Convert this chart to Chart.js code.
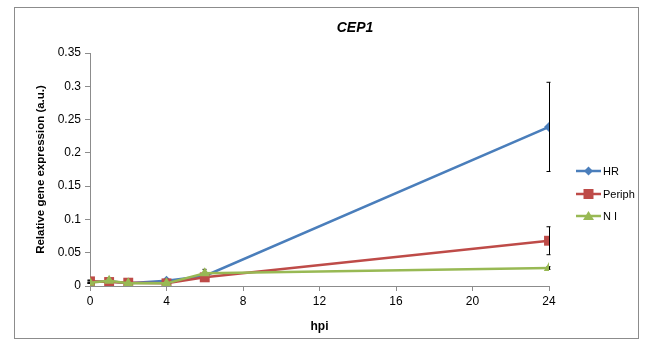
<!DOCTYPE html>
<html lang="en">
<head>
    <meta charset="UTF-8">
    <title>CEP1</title>
    <script src="https://cdn.jsdelivr.net/npm/chart.js"></script>
    <style>
        body { margin: 0; background: #fff; }
        .chart-box { width: 649px; height: 362px; }
    </style>
</head>
<body>
    <div class="chart-box">
        <canvas id="lineChart" width="649" height="362"></canvas>
    </div>

    <script>
        // hours post infection
        var hpi = [0, 1, 2, 4, 6, 24];
        var hrValues = [0.006, 0.007, 0.004, 0.008, 0.015, 0.239];
        var hrErrors = [0.002, 0.002, 0.001, 0.002, 0.003, 0.067];
        var periphValues = [0.007, 0.006, 0.005, 0.004, 0.013, 0.068];
        var periphErrors = [0.002, 0.002, 0.001, 0.001, 0.003, 0.021];
        var niValues = [0.005, 0.008, 0.004, 0.004, 0.019, 0.027];
        var niErrors = [0.001, 0.002, 0.001, 0.001, 0.006, 0.002];
        var xTicks = [0, 4, 8, 12, 16, 20, 24];
        var yTicks = [0, 0.05, 0.1, 0.15, 0.2, 0.25, 0.3, 0.35];

        var fontFamily = "'Liberation Sans', Arial, sans-serif";

        function toPoints(values) {
            return values.map(function (v, i) { return { x: hpi[i], y: v }; });
        }

        // error bars + frame + title + legend, all drawn on the canvas
        var extrasPlugin = {
            id: 'extras',
            beforeDatasetsDraw: function (chart) {
                var ctx = chart.ctx;
                var xs = chart.scales.x, ys = chart.scales.y;
                ctx.save();
                ctx.strokeStyle = '#000';
                ctx.lineWidth = 1;
                chart.data.datasets.forEach(function (ds) {
                    ds.errors.forEach(function (e, i) {
                        var px = Math.round(xs.getPixelForValue(hpi[i])) + 0.5;
                        var top = ys.getPixelForValue(ds.values[i] + e);
                        var bot = ys.getPixelForValue(ds.values[i] - e);
                        ctx.beginPath();
                        ctx.moveTo(px, top);
                        ctx.lineTo(px, bot);
                        ctx.moveTo(px - 3, top);
                        ctx.lineTo(px + 1, top);
                        ctx.moveTo(px - 3, bot);
                        ctx.lineTo(px + 1, bot);
                        ctx.stroke();
                    });
                });
                ctx.restore();
            },
            afterDraw: function (chart) {
                var ctx = chart.ctx;
                ctx.save();
                // outer frame
                ctx.strokeStyle = '#8c8c8c';
                ctx.lineWidth = 1;
                ctx.strokeRect(14.5, 7.5, 624, 331);

                // title
                ctx.fillStyle = '#000';
                ctx.font = 'italic bold 14px ' + fontFamily;
                ctx.textAlign = 'center';
                ctx.textBaseline = 'middle';
                ctx.fillText('CEP1', 355, 28);

                // legend
                ctx.font = '11px ' + fontFamily;
                ctx.textAlign = 'left';
                var ly = [171, 194, 216];
                chart.data.datasets.forEach(function (ds, i) {
                    var y = ly[i];
                    ctx.strokeStyle = ds.borderColor;
                    ctx.lineWidth = 2.5;
                    ctx.beginPath();
                    ctx.moveTo(576, y);
                    ctx.lineTo(601, y);
                    ctx.stroke();
                    ctx.fillStyle = ds.backgroundColor;
                    var cx = 588.5;
                    ctx.beginPath();
                    if (ds.pointStyle === 'rectRot') {
                        ctx.moveTo(cx, y - 4.5); ctx.lineTo(cx + 4.5, y);
                        ctx.lineTo(cx, y + 4.5); ctx.lineTo(cx - 4.5, y);
                    } else if (ds.pointStyle === 'rect') {
                        ctx.rect(cx - 5, y - 5, 10, 10);
                    } else {
                        ctx.moveTo(cx, y - 5); ctx.lineTo(cx + 5.5, y + 4); ctx.lineTo(cx - 5.5, y + 4);
                    }
                    ctx.closePath();
                    ctx.fill();
                    ctx.fillStyle = '#000';
                    ctx.fillText(ds.label, 603, y + 1);
                });
                ctx.restore();
            }
        };

        function makeSet(label, values, errors, color, style, radius, order) {
            return {
                label: label,
                data: toPoints(values),
                values: values,
                errors: errors,
                order: order,
                borderColor: color,
                backgroundColor: color,
                borderWidth: 2.5,
                pointStyle: style,
                pointRadius: radius,
                pointBorderWidth: 0,
                pointHoverRadius: radius,
                tension: 0
            };
        }

        var chartConfig = {
            type: 'line',
            data: {
                datasets: [
                    makeSet('HR', hrValues, hrErrors, '#4A7EBB', 'rectRot', 5, 3),
                    makeSet('Periph', periphValues, periphErrors, '#BE4B48', 'rect', 7, 2),
                    makeSet('N I', niValues, niErrors, '#98B954', 'triangle', 6, 1)
                ]
            },
            options: {
                responsive: false,
                animation: false,
                layout: { padding: { left: 30, right: 100, top: 53, bottom: 24 } },
                plugins: {
                    legend: { display: false },
                    tooltip: { enabled: false }
                },
                scales: {
                    x: {
                        type: 'linear',
                        min: 0,
                        max: 24,
                        afterBuildTicks: function (scale) {
                            scale.ticks = xTicks.map(function (v) { return { value: v }; });
                        },
                        afterFit: function (scale) { scale.height = 52; },
                        border: { color: '#8c8c8c', width: 1 },
                        grid: { drawOnChartArea: false, drawTicks: true, tickLength: 5, color: '#8c8c8c' },
                        ticks: { color: '#000', font: { family: fontFamily, size: 12 }, padding: 3, maxRotation: 0 },
                        title: { display: true, text: 'hpi', color: '#000', font: { family: fontFamily, size: 12, weight: 'bold' }, padding: { top: 6 } }
                    },
                    y: {
                        min: 0,
                        max: 0.35,
                        afterBuildTicks: function (scale) {
                            scale.ticks = yTicks.map(function (v) { return { value: v }; });
                        },
                        afterFit: function (scale) { scale.width = 60; },
                        border: { color: '#8c8c8c', width: 1 },
                        grid: { drawOnChartArea: false, drawTicks: true, tickLength: 5, color: '#8c8c8c' },
                        ticks: {
                            color: '#000',
                            font: { family: fontFamily, size: 12 },
                            padding: 4,
                            callback: function (v) { return String(Math.round(v * 100) / 100); }
                        },
                        title: { display: true, text: 'Relative gene expression (a.u.)', color: '#000', font: { family: fontFamily, size: 11.5, weight: 'bold' }, padding: { bottom: 4 } }
                    }
                }
            },
            plugins: [extrasPlugin]
        };

        var lineChart = new Chart(document.getElementById('lineChart').getContext('2d'), chartConfig);
    </script>
</body>
</html>
